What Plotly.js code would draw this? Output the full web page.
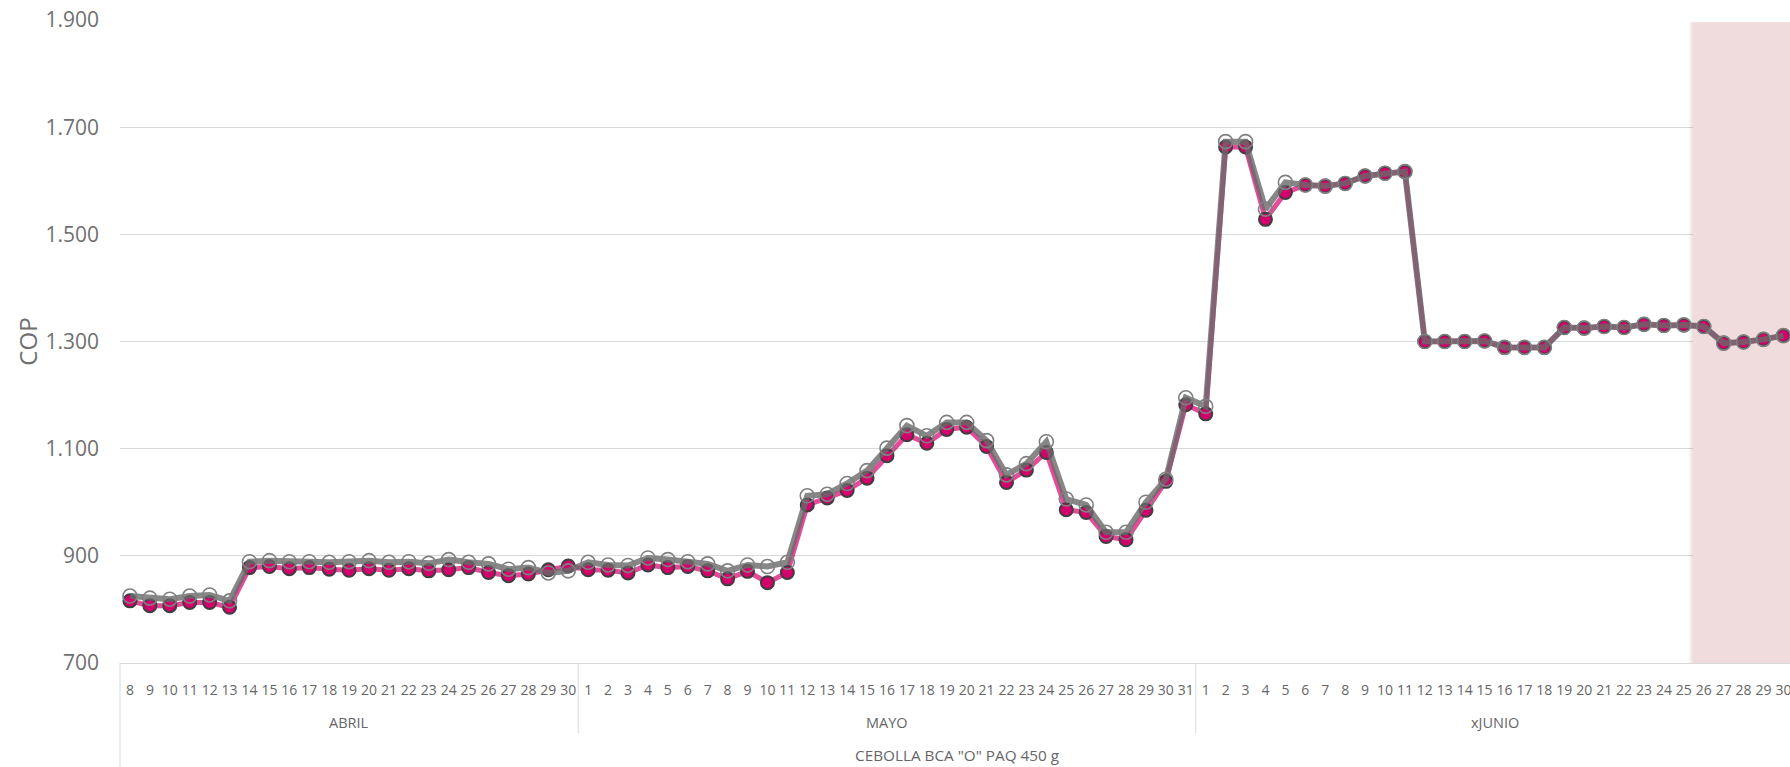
<!DOCTYPE html>
<html>
<head>
<meta charset="utf-8">
<script src="https://cdn.plot.ly/plotly-3.0.1.min.js"></script>
<style>
html, body { margin: 0; padding: 0; overflow: hidden; background: #fff; }
#chart { width: 1790px; height: 767px; }
</style>
</head>
<body>
<div id="chart"></div>
<script>
// ---- data ----
const product = 'CEBOLLA BCA "O" PAQ 450 g';
const months = ['ABRIL', 'MAYO', 'xJUNIO'];
const aprilDays = [8,9,10,11,12,13,14,15,16,17,18,19,20,21,22,23,24,25,26,27,28,29,30];
const mayDays = [1,2,3,4,5,6,7,8,9,10,11,12,13,14,15,16,17,18,19,20,21,22,23,24,25,26,27,28,29,30,31];
const juneDays = [1,2,3,4,5,6,7,8,9,10,11,12,13,14,15,16,17,18,19,20,21,22,23,24,25,26,27,28,29,30];

const pinkApril = [816,807,807,813,813,804,878,880,876,878,875,873,876,873,876,872,874,878,869,863,866,874,881];
const pinkMay = [874,873,868,883,878,880,872,857,871,850,869,995,1008,1022,1045,1087,1126,1110,1136,1140,1104,1037,1060,1093,986,981,936,930,985,1039,1182];
const pinkJune = [1165,1663,1663,1528,1578,1592,1590,1595,1609,1614,1617,1300,1300,1300,1301,1289,1289,1289,1326,1325,1328,1326,1332,1330,1331,1328,1297,1299,1304,1311];

const grayApril = [825,821,819,825,827,816,889,891,889,889,888,889,891,888,889,886,893,888,885,875,878,868,872];
const grayMay = [888,883,882,896,893,889,885,872,883,880,888,1012,1015,1035,1059,1101,1143,1124,1149,1149,1115,1051,1072,1113,1006,995,944,944,1000,1043,1195];
const grayJune = [1179,1673,1673,1547,1597,1592,1590,1595,1609,1614,1617,1300,1300,1300,1301,1289,1289,1289,1326,1325,1328,1326,1332,1330,1331,1328,1297,1299,1304,1311];

const yTicks = [700, 900, 1100, 1300, 1500, 1700, 1900];

// ---- build categories ----
const dayGroups = [aprilDays, mayDays, juneDays];
const keys = [], dayText = [];
dayGroups.forEach((days, m) => days.forEach(d => { keys.push(months[m] + '-' + d); dayText.push(String(d)); }));
const pinkY = pinkApril.concat(pinkMay, pinkJune);
const grayY = grayApril.concat(grayMay, grayJune);

const FONT = '"Segoe UI", "Open Sans", sans-serif';
const TXT = '#666666';

const traces = [
  {
    x: keys, y: pinkY, type: 'scatter', mode: 'lines+markers', name: 'A',
    line: { color: 'rgba(213,0,110,0.7)', width: 5 },
    marker: { symbol: 'circle', size: 13, color: '#D4006B', line: { color: '#3F3F3F', width: 2 } },
    hoverinfo: 'y'
  },
  {
    x: keys, y: grayY, type: 'scatter', mode: 'lines+markers', name: 'B',
    line: { color: 'rgba(105,105,105,0.8)', width: 6 },
    marker: { symbol: 'circle-open', size: 14, color: '#808080', line: { color: '#808080', width: 1.6 } },
    hoverinfo: 'y'
  }
];

// group boundaries and centers in category index units
let start = 0;
const annotations = [], shapes = [];
dayGroups.forEach((days, m) => {
  const end = start + days.length - 1;
  annotations.push({
    x: (start + end) / 2, xref: 'x', y: 0, yref: 'paper', yshift: -59,
    text: months[m], showarrow: false, yanchor: 'middle',
    font: { family: FONT, size: 14.5, color: TXT }
  });
  if (m > 0) {
    shapes.push({ type: 'line', xref: 'x', yref: 'paper', ysizemode: 'pixel', yanchor: 0,
      x0: start - 0.5, x1: start - 0.5, y0: 0, y1: -70, line: { color: '#D9D9D9', width: 1 } });
  }
  start = end + 1;
});
annotations.push({
  x: (keys.length - 1) / 2, xref: 'x', y: 0, yref: 'paper', yshift: -92,
  text: product, showarrow: false, yanchor: 'middle',
  font: { family: FONT, size: 15.3, color: TXT }
});
shapes.push({ type: 'line', xref: 'paper', yref: 'paper', ysizemode: 'pixel', yanchor: 0,
  x0: 0, x1: 0, y0: 0, y1: -110, line: { color: '#D9D9D9', width: 1 } });

// shaded forecast region with soft shadow
const shadeStart = 78.45, shadeTop = 1896;
[0.22, 0.13, 0.06].forEach(off => shapes.push({
  type: 'rect', xref: 'x', yref: 'y', layer: 'between', x0: shadeStart - off, x1: 90, y0: 699, y1: shadeTop,
  fillcolor: 'rgba(0,0,0,0.03)', line: { width: 0 }
}));
shapes.push({
  type: 'rect', xref: 'x', yref: 'y', layer: 'between', x0: shadeStart, x1: 90, y0: 700, y1: shadeTop,
  fillcolor: '#F0DCDC', line: { width: 0 }
});

const layout = {
  width: 1790, height: 767,
  margin: { l: 120, r: 0, t: 20, b: 104, pad: 0 },
  paper_bgcolor: '#ffffff', plot_bgcolor: '#ffffff',
  separators: ',.',
  showlegend: false,
  font: { family: FONT, color: TXT },
  xaxis: {
    type: 'category', range: [-0.5, 83.33],
    tickvals: keys, ticktext: dayText,
    tickfont: { family: FONT, size: 14, color: TXT },
    ticks: '', ticklabelstandoff: 14,
    showgrid: false, zeroline: false,
    showline: true, linecolor: '#D9D9D9', linewidth: 1,
    fixedrange: true
  },
  yaxis: {
    range: [700, 1900], tickvals: yTicks, tickformat: ',d',
    tickfont: { family: FONT, size: 21, color: '#707070' },
    ticklabelstandoff: 20,
    showgrid: true, gridcolor: '#D9D9D9', gridwidth: 1,
    zeroline: false, showline: false,
    title: { text: 'COP', font: { family: FONT, size: 24, color: '#6E6E6E' }, standoff: 1 },
    automargin: false, fixedrange: true
  },
  annotations: annotations,
  shapes: shapes
};

Plotly.newPlot('chart', traces, layout, { displayModeBar: false, staticPlot: true });
</script>
</body>
</html>
